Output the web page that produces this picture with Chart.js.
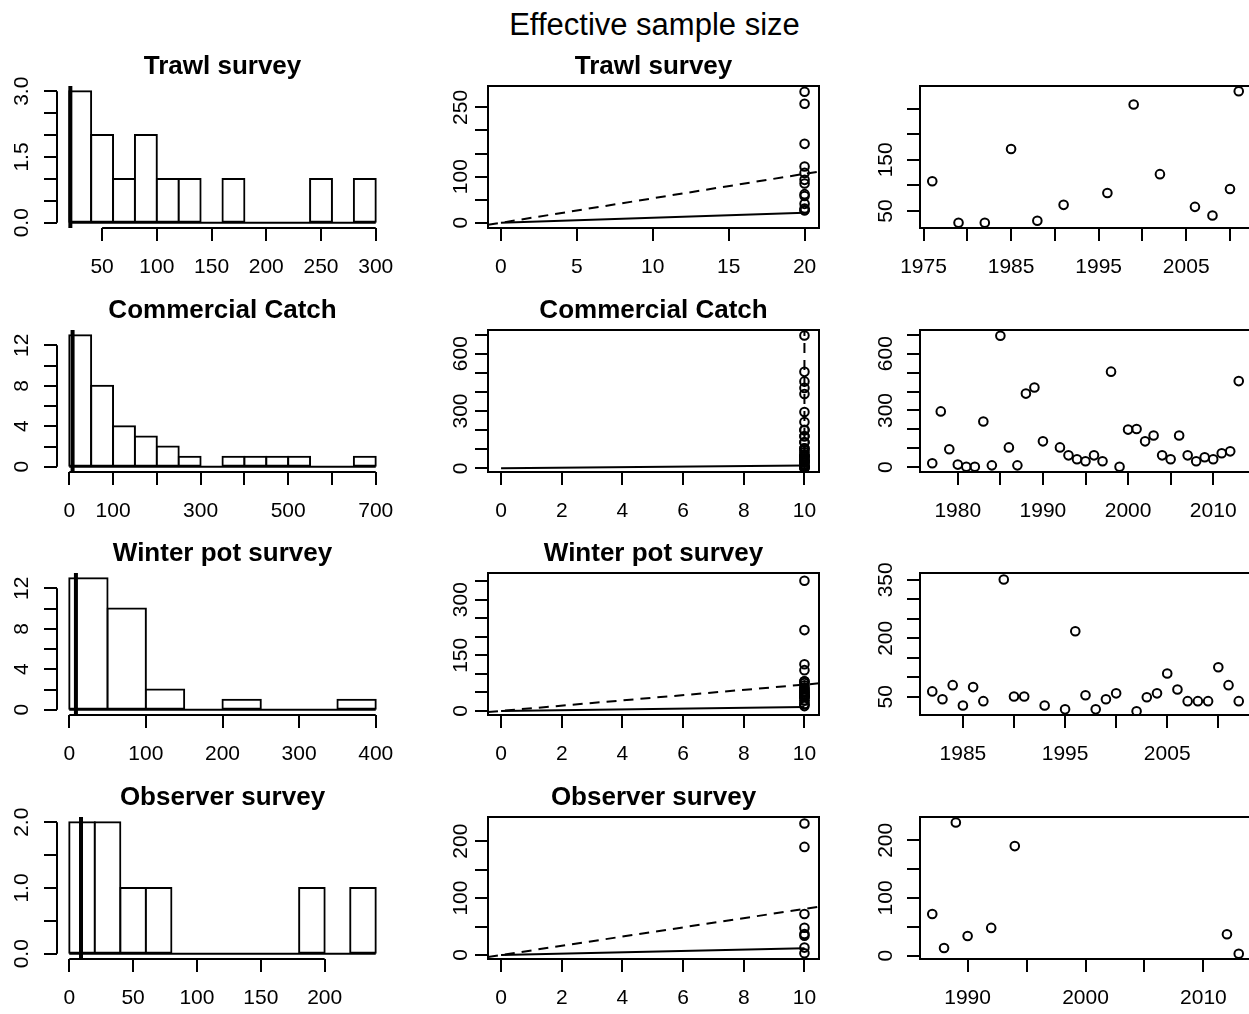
<!DOCTYPE html>
<html><head><meta charset="utf-8">
<script src="https://cdn.jsdelivr.net/npm/chart.js"></script>
<style>
html,body{margin:0;padding:0;background:#fff;overflow:hidden;width:1249px;height:1014px;}
canvas{position:absolute;}
#main{position:absolute;left:354.5px;width:600px;top:7px;height:30px;line-height:30px;text-align:center;font:31px "Liberation Sans",Arial,sans-serif;color:#000;white-space:nowrap;}
</style></head><body>
<div id="main">Effective sample size</div>
<script>
// ---------------- DATA ----------------
const surveyNames = ['Trawl survey', 'Commercial Catch', 'Winter pot survey', 'Observer survey'];

// Trawl survey
const trawlYears = [1976,1979,1982,1985,1988,1991,1996,1999,2002,2006,2008,2010,2011];
const trawlNeff  = [108,27,27,171,31,62,85,258,122,58,41,93,284];
const trawlBreaks = [20,40,60,80,100,120,140,160,180,200,220,240,260,280,300];
const trawlCounts = [3,2,1,2,1,1,0,1,0,0,0,1,0,1];
const trawlVline = 21;
const trawlN = 20;
const trawlSolid = [[0,0],[20,21.6]];
const trawlDashed = [[-0.85,-4.5],[20.95,111]];

// Commercial catch
const commYears = [1977,1978,1979,1980,1981,1982,1983,1984,1985,1986,1987,1988,1989,1990,1992,1993,1994,1995,1996,1997,1998,1999,2000,2001,2002,2003,2004,2005,2006,2007,2008,2009,2010,2011,2012,2013];
const commNeff  = [21,295,95,14,3,3,242,10,695,105,10,389,421,137,105,63,42,32,63,32,505,3,199,202,137,168,63,42,168,63,32,53,42,74,84,455];
const commBreaks = [0,50,100,150,200,250,300,350,400,450,500,550,600,650,700];
const commCounts = [13,8,4,3,2,1,0,1,1,1,1,0,0,1];
const commVline = 7.6;
const commN = 10;
const commSolid = [[0,0],[10,15]];
const commDashed = [[10,-19],[10,724]];

// Winter pot survey
const potYears = [1982,1983,1984,1985,1986,1987,1989,1990,1991,1993,1995,1996,1997,1998,1999,2000,2002,2003,2004,2005,2006,2007,2008,2009,2010,2011,2012];
const potNeff  = [64,44,80,28,75,39,351,51,51,28,18,218,54,18,44,59,13,49,59,110,69,39,39,39,126,80,39];
const potBreaks = [0,50,100,150,200,250,300,350,400];
const potCounts = [13,10,2,0,1,0,0,1];
const potVline = 8.7;
const potN = 10;
const potSolid = [[0,0],[10,10.7]];
const potDashed = [[-0.43,-3],[10.48,74.4]];

// Observer survey
const obsYears = [1987,1988,1989,1990,1992,1994,2012,2013];
const obsNeff  = [72,13,231,34,48,190,37,3];
const obsBreaks = [0,20,40,60,80,100,120,140,160,180,200,220,240];
const obsCounts = [2,2,1,1,0,0,0,0,0,1,0,1];
const obsVline = 9.2;
const obsN = 10;
const obsSolid = [[0,0],[10,11.7]];
const obsDashed = [[-0.43,-3.5],[10.48,84.9]];

// Tick values and labels
const trawlHistXTicks = [50,100,150,200,250,300];
const trawlHistXLabels = ['50','100','150','200','250','300'];
const trawlHistYTicks = [0,0.5,1,1.5,2,2.5,3];
const trawlHistYLabels = ['0.0','','','1.5','','','3.0'];
const trawlFitXTicks = [0,5,10,15,20];
const trawlFitXLabels = ['0','5','10','15','20'];
const trawlFitYTicks = [0,50,100,150,200,250];
const trawlFitYLabels = ['0','','100','','','250'];
const trawlYrXTicks = [1975,1980,1985,1990,1995,2000,2005,2010];
const trawlYrXLabels = ['1975','','1985','','1995','','2005',''];
const trawlYrYTicks = [50,100,150,200,250];
const trawlYrYLabels = ['50','','150','',''];

const commHistXTicks = [0,100,200,300,400,500,600,700];
const commHistXLabels = ['0','100','','300','','500','','700'];
const commHistYTicks = [0,2,4,6,8,10,12];
const commHistYLabels = ['0','','4','','8','','12'];
const commFitXTicks = [0,2,4,6,8,10];
const commFitXLabels = ['0','2','4','6','8','10'];
const commFitYTicks = [0,100,200,300,400,500,600,700];
const commFitYLabels = ['0','','','300','','','600',''];
const commYrXTicks = [1980,1985,1990,1995,2000,2005,2010];
const commYrXLabels = ['1980','','1990','','2000','','2010'];
const commYrYTicks = [0,100,200,300,400,500,600,700];
const commYrYLabels = ['0','','','300','','','600',''];

const potHistXTicks = [0,100,200,300,400];
const potHistXLabels = ['0','100','200','300','400'];
const potHistYTicks = [0,2,4,6,8,10,12];
const potHistYLabels = ['0','','4','','8','','12'];
const potFitXTicks = [0,2,4,6,8,10];
const potFitXLabels = ['0','2','4','6','8','10'];
const potFitYTicks = [0,50,100,150,200,250,300,350];
const potFitYLabels = ['0','','','150','','','300',''];
const potYrXTicks = [1985,1990,1995,2000,2005,2010];
const potYrXLabels = ['1985','','1995','','2005',''];
const potYrYTicks = [50,100,150,200,250,300,350];
const potYrYLabels = ['50','','','200','','','350'];

const obsHistXTicks = [0,50,100,150,200];
const obsHistXLabels = ['0','50','100','150','200'];
const obsHistYTicks = [0,0.5,1,1.5,2];
const obsHistYLabels = ['0.0','','1.0','','2.0'];
const obsFitXTicks = [0,2,4,6,8,10];
const obsFitXLabels = ['0','2','4','6','8','10'];
const obsFitYTicks = [0,50,100,150,200];
const obsFitYLabels = ['0','','100','','200'];
const obsYrXTicks = [1990,1995,2000,2005,2010];
const obsYrXLabels = ['1990','','2000','','2010'];
const obsYrYTicks = [0,50,100,150,200];
const obsYrYLabels = ['0','','100','','200'];

// ---------------- LAYOUT ----------------
const FONT = '"Liberation Sans", Arial, Helvetica, sans-serif';
Chart.defaults.font.family = FONT;
Chart.defaults.color = '#000';

const COL_L = [57, 488, 920];
const ROW_T = [86, 330, 573, 817];
const PW = 331, PH = 142;
const YAXW = 70, XAXH = 70, PADL = 5, PADR = 30, PADB = 5, TOPB = 40;
const TICKLEN = 13;
const XLAB_OFF = 39;
const YLAB_OFF = [35, 27, 34];
const TICKFONT = 21;
const TITLEFONT = 26;

const mctx = document.createElement('canvas').getContext('2d');
function textW(s) { mctx.font = TICKFONT + 'px ' + FONT; return mctx.measureText(s).width; }

const gridOpts = {display: true, drawOnChartArea: false, drawTicks: true, tickLength: TICKLEN, color: '#000', lineWidth: 2, offset: false};

function xAxis(lim, vals, labels) {
  return {
    type: 'linear', min: lim[0], max: lim[1], offset: false,
    afterBuildTicks: s => { s.ticks = vals.map(v => ({value: v})); },
    afterFit: s => { s.height = XAXH; },
    grid: gridOpts, border: {display: false},
    ticks: {autoSkip: false, minRotation: 0, maxRotation: 0, padding: XLAB_OFF - TICKLEN - TICKFONT * 0.6,
            font: {size: TICKFONT}, color: '#000', callback: (v, i) => labels[i]}
  };
}
function yAxis(lim, vals, labels, col) {
  const widest = Math.max(...labels.map(textW));
  return {
    type: 'linear', min: lim[0], max: lim[1],
    afterBuildTicks: s => { s.ticks = vals.map(v => ({value: v})); },
    afterFit: s => { s.width = YAXW; },
    grid: gridOpts, border: {display: false},
    ticks: {autoSkip: false, minRotation: 90, maxRotation: 90, crossAlign: 'center',
            padding: YLAB_OFF[col] - TICKLEN - widest / 2,
            font: {size: TICKFONT}, color: '#000', callback: (v, i) => labels[i]}
  };
}

const framePlugin = {
  id: 'rframe',
  afterDraw(chart, args, opts) {
    const ctx = chart.ctx, a = chart.chartArea;
    ctx.save();
    ctx.strokeStyle = '#000'; ctx.lineWidth = 2;
    if (opts.box) {
      ctx.strokeRect(Math.round(a.left), Math.round(a.top), Math.round(a.right - a.left), Math.round(a.bottom - a.top));
    }
    if (opts.segments) {
      const xs = chart.scales.x, ys = chart.scales.y;
      const xt = xs.ticks, yt = ys.ticks;
      ctx.beginPath();
      ctx.moveTo(xs.getPixelForValue(xt[0].value), Math.round(a.bottom));
      ctx.lineTo(xs.getPixelForValue(xt[xt.length - 1].value), Math.round(a.bottom));
      ctx.moveTo(Math.round(a.left), ys.getPixelForValue(yt[0].value));
      ctx.lineTo(Math.round(a.left), ys.getPixelForValue(yt[yt.length - 1].value));
      ctx.stroke();
    }
    ctx.restore();
  }
};

function mountCanvas(row, col) {
  const c = document.createElement('canvas');
  c.width = PADL + YAXW + PW + PADR;
  c.height = TOPB + PH + XAXH + PADB;
  c.style.left = (COL_L[col] - YAXW - PADL) + 'px';
  c.style.top = (ROW_T[row] - TOPB) + 'px';
  c.style.width = c.width + 'px';
  c.style.height = c.height + 'px';
  document.body.appendChild(c);
  return c;
}

function options(title, xs, ys, frame) {
  return {
    responsive: false, animation: false, events: [],
    layout: {padding: {left: PADL, right: PADR, top: title ? 5 : TOPB, bottom: PADB}},
    plugins: {
      legend: {display: false}, tooltip: {enabled: false},
      title: title ? {display: true, text: title, fullSize: false, color: '#000',
                      font: {size: TITLEFONT, weight: 'bold'}, padding: {top: 0, bottom: 3.8}} : {display: false},
      rframe: frame
    },
    scales: {x: xs, y: ys}
  };
}

const lineStyle = {borderColor: '#000', borderWidth: 2, pointRadius: 0, fill: false, tension: 0};
const pointStyle = {showLine: false, pointStyle: 'circle', pointRadius: 4.3, pointBorderWidth: 2,
                    pointBorderColor: '#000', pointBackgroundColor: 'rgba(0,0,0,0)', borderColor: '#000', backgroundColor: 'rgba(0,0,0,0)'};

function histPanel(row, breaks, counts, vline, xlim, ylim, xt, xl, yt, yl) {
  const bars = counts.map((c, i) => ({x: (breaks[i] + breaks[i + 1]) / 2, y: c}));
  new Chart(mountCanvas(row, 0), {
    type: 'bar',
    data: {datasets: [
      Object.assign({type: 'line', data: [{x: vline, y: ylim[0]}, {x: vline, y: ylim[1]}]}, lineStyle, {borderWidth: 4}),
      Object.assign({type: 'line', data: [{x: breaks[0], y: 0}, {x: breaks[breaks.length - 1], y: 0}]}, lineStyle),
      {type: 'bar', data: bars, barPercentage: 1, categoryPercentage: 1, borderWidth: 2, borderColor: '#000',
       backgroundColor: '#fff', borderSkipped: false, inflateAmount: 1}
    ]},
    options: options(surveyNames[row], xAxis(xlim, xt, xl), yAxis(ylim, yt, yl, 0), {segments: true}),
    plugins: [framePlugin]
  });
}

function fitPanel(row, N, neff, solid, dashed, xlim, ylim, xt, xl, yt, yl) {
  new Chart(mountCanvas(row, 1), {
    type: 'scatter',
    data: {datasets: [
      Object.assign({data: neff.map(v => ({x: N, y: v}))}, pointStyle),
      Object.assign({type: 'line', data: solid.map(p => ({x: p[0], y: p[1]}))}, lineStyle),
      Object.assign({type: 'line', data: dashed.map(p => ({x: p[0], y: p[1]})), borderDash: [10, 7]}, lineStyle)
    ]},
    options: options(surveyNames[row], xAxis(xlim, xt, xl), yAxis(ylim, yt, yl, 1), {box: true}),
    plugins: [framePlugin]
  });
}

function yearPanel(row, years, neff, xlim, ylim, xt, xl, yt, yl) {
  new Chart(mountCanvas(row, 2), {
    type: 'scatter',
    data: {datasets: [Object.assign({data: years.map((y, i) => ({x: y, y: neff[i]}))}, pointStyle)]},
    options: options(null, xAxis(xlim, xt, xl), yAxis(ylim, yt, yl, 2), {box: true}),
    plugins: [framePlugin]
  });
}

// Row 1: Trawl survey
histPanel(0, trawlBreaks, trawlCounts, trawlVline, [8.8, 311.2], [-0.12, 3.12], trawlHistXTicks, trawlHistXLabels, trawlHistYTicks, trawlHistYLabels);
fitPanel(0, trawlN, trawlNeff, trawlSolid, trawlDashed, [-0.85, 20.95], [-11.4, 296.4], trawlFitXTicks, trawlFitXLabels, trawlFitYTicks, trawlFitYLabels);
yearPanel(0, trawlYears, trawlNeff, [1974.6, 2012.4], [16.7, 294.3], trawlYrXTicks, trawlYrXLabels, trawlYrYTicks, trawlYrYLabels);

// Row 2: Commercial catch
histPanel(1, commBreaks, commCounts, commVline, [-28, 728], [-0.52, 13.52], commHistXTicks, commHistXLabels, commHistYTicks, commHistYLabels);
fitPanel(1, commN, commNeff, commSolid, commDashed, [-0.43, 10.48], [-19, 724], commFitXTicks, commFitXLabels, commFitYTicks, commFitYLabels);
yearPanel(1, commYears, commNeff, [1975.56, 2014.44], [-25, 725], commYrXTicks, commYrXLabels, commYrYTicks, commYrYLabels);

// Row 3: Winter pot survey
histPanel(2, potBreaks, potCounts, potVline, [-16, 416], [-0.52, 13.52], potHistXTicks, potHistXLabels, potHistYTicks, potHistYLabels);
fitPanel(2, potN, potNeff, potSolid, potDashed, [-0.43, 10.48], [-11, 372], potFitXTicks, potFitXLabels, potFitYTicks, potFitYLabels);
yearPanel(2, potYears, potNeff, [1980.8, 2013.2], [3.5, 367.5], potYrXTicks, potYrXLabels, potYrYTicks, potYrYLabels);

// Row 4: Observer survey
histPanel(3, obsBreaks, obsCounts, obsVline, [-9.6, 249.6], [-0.08, 2.08], obsHistXTicks, obsHistXLabels, obsHistYTicks, obsHistYLabels);
fitPanel(3, obsN, obsNeff, obsSolid, obsDashed, [-0.43, 10.48], [-7, 242.5], obsFitXTicks, obsFitXLabels, obsFitYTicks, obsFitYLabels);
yearPanel(3, obsYears, obsNeff, [1985.96, 2014.04], [-6, 240.5], obsYrXTicks, obsYrXLabels, obsYrYTicks, obsYrYLabels);
</script>
</body></html>
